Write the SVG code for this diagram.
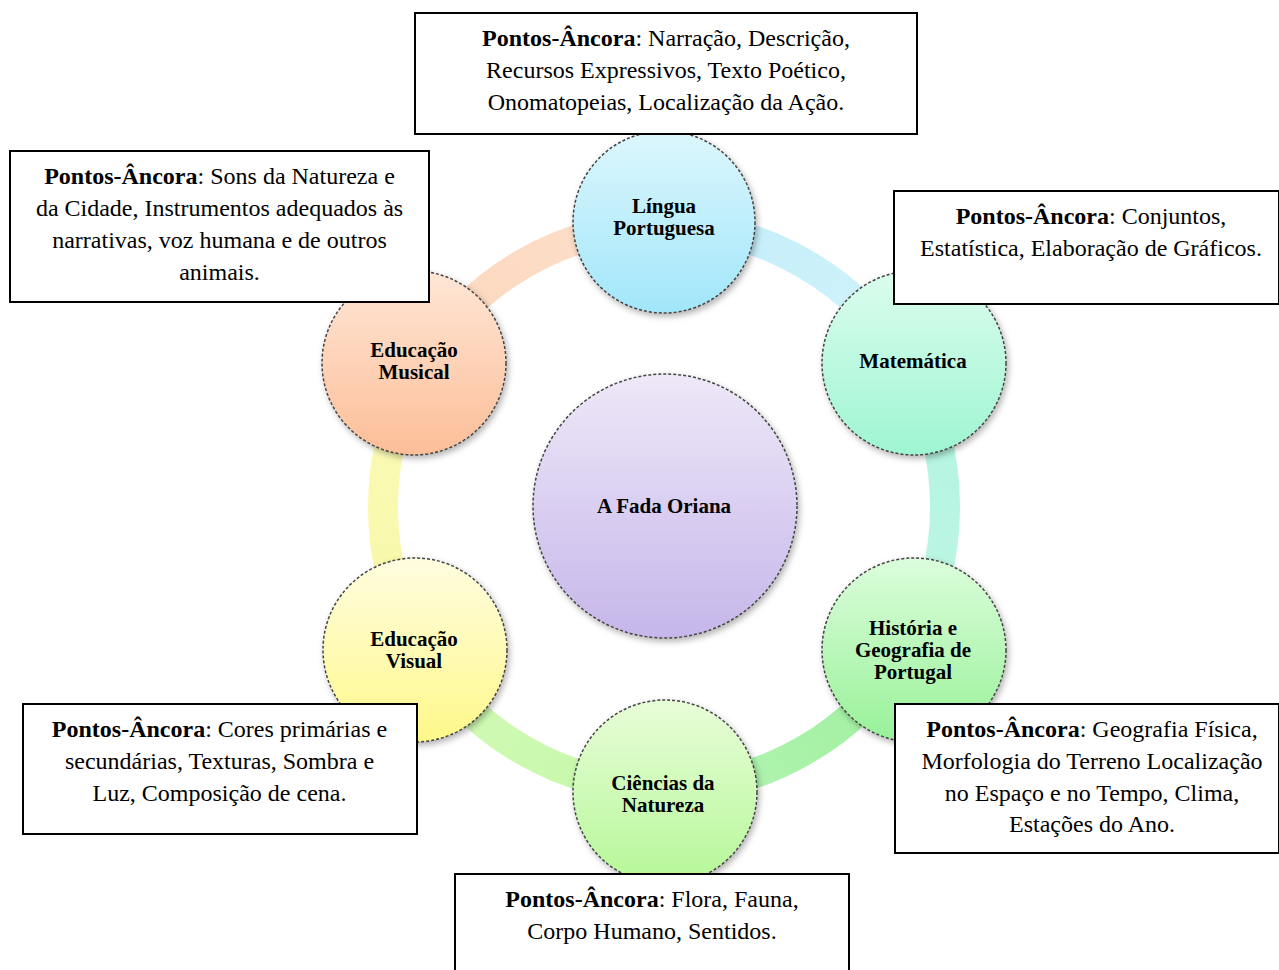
<svg xmlns="http://www.w3.org/2000/svg" width="1279" height="970" viewBox="0 0 1279 970">
  <defs>
    <style>
      .node { stroke: #444; stroke-width: 1.5; stroke-dasharray: 3 2; filter: url(#shadow); }
      .label { font-family: "Liberation Serif", "Times New Roman", serif; font-size: 21px; font-weight: bold; fill: #000; text-anchor: middle; }
      .box { fill: #fff; stroke: #000; stroke-width: 2; }
      .note { font-family: "Liberation Serif", "Times New Roman", serif; font-size: 24px; fill: #000; text-anchor: middle; }
      .note .b { font-weight: bold; }
      .ring { fill: none; stroke-width: 30; }
    </style>
    <filter id="shadow" x="-20%" y="-20%" width="140%" height="140%">
      <feDropShadow dx="2" dy="3" stdDeviation="3" flood-color="#000" flood-opacity="0.3"/>
    </filter>
    <!-- node fills: lighter at the top -->
    <linearGradient id="gLP" x1="0" y1="0" x2="0" y2="1"><stop offset="0" stop-color="#dcf7fd"/><stop offset="1" stop-color="#a2e6fa"/></linearGradient>
    <linearGradient id="gMat" x1="0" y1="0" x2="0" y2="1"><stop offset="0" stop-color="#dcfdee"/><stop offset="1" stop-color="#9ef5d2"/></linearGradient>
    <linearGradient id="gHist" x1="0" y1="0" x2="0" y2="1"><stop offset="0" stop-color="#dcfddc"/><stop offset="1" stop-color="#98f198"/></linearGradient>
    <linearGradient id="gCN" x1="0" y1="0" x2="0" y2="1"><stop offset="0" stop-color="#e8fdd8"/><stop offset="1" stop-color="#b6f898"/></linearGradient>
    <linearGradient id="gEV" x1="0" y1="0" x2="0" y2="1"><stop offset="0" stop-color="#fffde0"/><stop offset="1" stop-color="#fff88a"/></linearGradient>
    <linearGradient id="gEM" x1="0" y1="0" x2="0" y2="1"><stop offset="0" stop-color="#ffe6d6"/><stop offset="1" stop-color="#fcbe98"/></linearGradient>
    <linearGradient id="gC" x1="0" y1="0" x2="0" y2="1"><stop offset="0" stop-color="#eee8f8"/><stop offset="1" stop-color="#c6b6ea"/></linearGradient>
    <!-- ring segment colours, running clockwise -->
    <linearGradient id="r1" gradientUnits="userSpaceOnUse" x1="664" y1="226" x2="907" y2="366"><stop offset="0" stop-color="#c2ecfa"/><stop offset="1" stop-color="#d2f4fa"/></linearGradient>
    <linearGradient id="r2" gradientUnits="userSpaceOnUse" x1="907" y1="366" x2="907" y2="647"><stop offset="0" stop-color="#b2f4e0"/><stop offset="1" stop-color="#bef6e4"/></linearGradient>
    <linearGradient id="r3" gradientUnits="userSpaceOnUse" x1="907" y1="647" x2="664" y2="788"><stop offset="0" stop-color="#9ef09e"/><stop offset="1" stop-color="#b4f4b4"/></linearGradient>
    <linearGradient id="r4" gradientUnits="userSpaceOnUse" x1="664" y1="788" x2="421" y2="647"><stop offset="0" stop-color="#c4f8a8"/><stop offset="1" stop-color="#d4fab8"/></linearGradient>
    <linearGradient id="r5" gradientUnits="userSpaceOnUse" x1="421" y1="647" x2="421" y2="366"><stop offset="0" stop-color="#f8f8a8"/><stop offset="1" stop-color="#fafab8"/></linearGradient>
    <linearGradient id="r6" gradientUnits="userSpaceOnUse" x1="421" y1="366" x2="664" y2="226"><stop offset="0" stop-color="#fcd6bc"/><stop offset="1" stop-color="#fde0cc"/></linearGradient>
  </defs>

  <!-- ring connectors between the subject nodes (radius 281 about the centre) -->
  <g id="connectors">
    <path class="ring" stroke="url(#r1)" d="M664 226 A281 281 0 0 1 907.4 366.5"/>
    <path class="ring" stroke="url(#r2)" d="M907.4 366.5 A281 281 0 0 1 907.4 647.5"/>
    <path class="ring" stroke="url(#r3)" d="M907.4 647.5 A281 281 0 0 1 664 788"/>
    <path class="ring" stroke="url(#r4)" d="M664 788 A281 281 0 0 1 420.6 647.5"/>
    <path class="ring" stroke="url(#r5)" d="M420.6 647.5 A281 281 0 0 1 420.6 366.5"/>
    <path class="ring" stroke="url(#r6)" d="M420.6 366.5 A281 281 0 0 1 664 226"/>
  </g>

  <g id="centro">
    <circle class="node" cx="665" cy="506" r="132" fill="url(#gC)"/>
    <text class="label" x="664" y="513">A Fada Oriana</text>
  </g>

  <g id="lingua-portuguesa">
    <circle class="node" cx="664" cy="222" r="91" fill="url(#gLP)"/>
    <text class="label" x="664" y="213">Língua</text>
    <text class="label" x="664" y="235">Portuguesa</text>
  </g>

  <g id="matematica">
    <circle class="node" cx="914" cy="363" r="92" fill="url(#gMat)"/>
    <text class="label" x="913" y="368">Matemática</text>
  </g>

  <g id="historia-geografia">
    <circle class="node" cx="914" cy="650" r="92" fill="url(#gHist)"/>
    <text class="label" x="913" y="635">História e</text>
    <text class="label" x="913" y="657">Geografia de</text>
    <text class="label" x="913" y="679">Portugal</text>
  </g>

  <g id="ciencias-natureza">
    <circle class="node" cx="665" cy="792" r="92" fill="url(#gCN)"/>
    <text class="label" x="663" y="790">Ciências da</text>
    <text class="label" x="663" y="812">Natureza</text>
  </g>

  <g id="educacao-visual">
    <circle class="node" cx="415" cy="650" r="92" fill="url(#gEV)"/>
    <text class="label" x="414" y="646">Educação</text>
    <text class="label" x="414" y="668">Visual</text>
  </g>

  <g id="educacao-musical">
    <circle class="node" cx="414" cy="363" r="92" fill="url(#gEM)"/>
    <text class="label" x="414" y="357">Educação</text>
    <text class="label" x="414" y="379">Musical</text>
  </g>

  <!-- anchor-point notes -->
  <g id="nota-lingua">
    <rect class="box" x="415" y="13" width="502" height="121"/>
    <text class="note" x="666" y="46"><tspan class="b">Pontos-Âncora</tspan>: Narração, Descrição,</text>
    <text class="note" x="666" y="78">Recursos Expressivos, Texto Poético,</text>
    <text class="note" x="666" y="110">Onomatopeias, Localização da Ação.</text>
  </g>

  <g id="nota-musical">
    <rect class="box" x="10" y="151" width="419" height="151"/>
    <text class="note" x="219.5" y="184"><tspan class="b">Pontos-Âncora</tspan>: Sons da Natureza e</text>
    <text class="note" x="219.5" y="216">da Cidade, Instrumentos adequados às</text>
    <text class="note" x="219.5" y="248">narrativas, voz humana e de outros</text>
    <text class="note" x="219.5" y="280">animais.</text>
  </g>

  <g id="nota-matematica">
    <rect class="box" x="894" y="191" width="385" height="113"/>
    <text class="note" x="1091" y="224"><tspan class="b">Pontos-Âncora</tspan>: Conjuntos,</text>
    <text class="note" x="1091" y="256">Estatística, Elaboração de Gráficos.</text>
  </g>

  <g id="nota-visual">
    <rect class="box" x="23" y="704" width="394" height="130"/>
    <text class="note" x="219.5" y="737"><tspan class="b">Pontos-Âncora</tspan>: Cores primárias e</text>
    <text class="note" x="219.5" y="769">secundárias, Texturas, Sombra e</text>
    <text class="note" x="219.5" y="801">Luz, Composição de cena.</text>
  </g>

  <g id="nota-historia">
    <rect class="box" x="895" y="704" width="384" height="149"/>
    <text class="note" x="1092" y="737"><tspan class="b">Pontos-Âncora</tspan>: Geografia Física,</text>
    <text class="note" x="1092" y="769">Morfologia do Terreno Localização</text>
    <text class="note" x="1092" y="801">no Espaço e no Tempo, Clima,</text>
    <text class="note" x="1092" y="832">Estações do Ano.</text>
  </g>

  <g id="nota-ciencias">
    <rect class="box" x="455" y="874" width="394" height="110"/>
    <text class="note" x="652" y="907"><tspan class="b">Pontos-Âncora</tspan>: Flora, Fauna,</text>
    <text class="note" x="652" y="939">Corpo Humano, Sentidos.</text>
  </g>
</svg>
